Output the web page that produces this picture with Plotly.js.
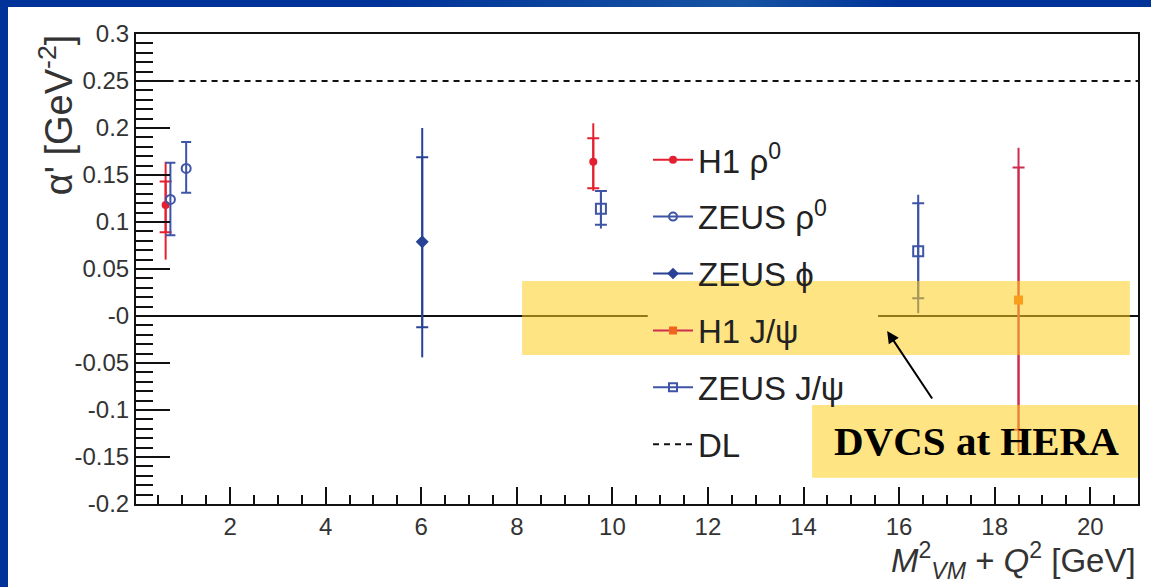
<!DOCTYPE html>
<html>
<head>
<meta charset="utf-8">
<script src="https://cdn.plot.ly/plotly-3.0.1.min.js"></script>
<style>
  html, body { margin: 0; padding: 0; background: #003399; width: 1151px; height: 587px; overflow: hidden; }
  #swoosh { position: absolute; left: 380px; top: 0; width: 520px; height: 7px;
    background: linear-gradient(90deg, rgba(40,110,170,0) 0%, rgba(40,110,170,0.55) 70%, rgba(40,110,170,0) 100%); }
  #chart { position: absolute; left: 8px; top: 7px; width: 1143px; height: 580px; background: #ffffff; }
</style>
</head>
<body>
<div id="swoosh"></div>
<div id="chart"></div>
<script>
// ---- data ----
const h1RhoX = [0.65, 9.6];
const h1RhoY = [0.118, 0.164];
const h1RhoTotUp = [0.046, 0.041];
const h1RhoTotDn = [0.058, 0.031];
const h1RhoStatUp = [0.025, 0.025];
const h1RhoStatDn = [0.029, 0.028];

const zeusRhoX = [0.75, 1.08];
const zeusRhoY = [0.124, 0.157];
const zeusRhoUp = [0.039, 0.028];
const zeusRhoDn = [0.038, 0.026];

const zeusPhiX = [6.02];
const zeusPhiY = [0.079];
const zeusPhiTotUp = [0.121];
const zeusPhiTotDn = [0.123];
const zeusPhiStatUp = [0.090];
const zeusPhiStatDn = [0.091];

const h1JpsiX = [18.5];
const h1JpsiY = [0.017];
const h1JpsiTotUp = [0.162];
const h1JpsiTotDn = [0.162];
const h1JpsiStatUp = [0.141];
const h1JpsiStatDn = [0.138];

const zeusJpsiX = [9.76, 16.4];
const zeusJpsiY = [0.114, 0.069];
const zeusJpsiTotUp = [0.019, 0.060];
const zeusJpsiTotDn = [0.021, 0.066];
const zeusJpsiStatUp = [0.019, 0.051];
const zeusJpsiStatDn = [0.017, 0.050];

const dlX = [0, 21];
const dlY = [0.25, 0.25];

const yTickVals = [0.3, 0.25, 0.2, 0.15, 0.1, 0.05, 0, -0.05, -0.1, -0.15, -0.2];
const yTickText = ["0.3", "0.25", "0.2", "0.15", "0.1", "0.05", "-0", "-0.05", "-0.1", "-0.15", "-0.2"];
const xTickVals = [2, 4, 6, 8, 10, 12, 14, 16, 18, 20];

const legendNames = ["H1 ρ<sup>0</sup>", "ZEUS ρ<sup>0</sup>", "ZEUS ϕ", "H1 J/ψ", "ZEUS J/ψ"];

// ---- styles ----
const cRed = "rgb(228,32,48)";
const cBlue = "rgb(62,84,166)";
const cBlueDark = "rgb(40,66,150)";
const cOrange = "rgb(240,100,30)";
const cCrimson = "rgb(205,45,80)";

function errTrace(x, y, up, dn, color, width, marker) {
  return {
    type: "scatter", mode: "markers", x: x, y: y, showlegend: false, hoverinfo: "skip",
    marker: marker,
    error_y: { type: "data", symmetric: false, array: up, arrayminus: dn, color: color, thickness: 2, width: width }
  };
}
const hidden = { size: 1, opacity: 0 };

const traces = [
  errTrace(h1RhoX, h1RhoY, h1RhoStatUp, h1RhoStatDn, cRed, 6, hidden),
  errTrace(h1RhoX, h1RhoY, h1RhoTotUp, h1RhoTotDn, cRed, 0, { symbol: "circle", size: 8, color: cRed }),
  errTrace(zeusRhoX, zeusRhoY, zeusRhoUp, zeusRhoDn, cBlue, 5, { symbol: "circle-open", size: 9, color: cBlue, line: { width: 2, color: cBlue } }),
  errTrace(zeusPhiX, zeusPhiY, zeusPhiStatUp, zeusPhiStatDn, cBlueDark, 6, hidden),
  errTrace(zeusPhiX, zeusPhiY, zeusPhiTotUp, zeusPhiTotDn, cBlueDark, 0, { symbol: "diamond", size: 10, color: cBlueDark }),
  errTrace(h1JpsiX, h1JpsiY, h1JpsiStatUp, h1JpsiStatDn, cCrimson, 6, hidden),
  errTrace(h1JpsiX, h1JpsiY, h1JpsiTotUp, h1JpsiTotDn, cCrimson, 0, { symbol: "square", size: 9, color: cOrange }),
  errTrace(zeusJpsiX, zeusJpsiY, zeusJpsiStatUp, zeusJpsiStatDn, cBlue, 6, hidden),
  errTrace(zeusJpsiX, zeusJpsiY, zeusJpsiTotUp, zeusJpsiTotDn, cBlue, 0, { symbol: "square-open", size: 10, color: cBlue, line: { width: 2, color: cBlue } }),
  { type: "scatter", mode: "lines", x: dlX, y: dlY, showlegend: false, hoverinfo: "skip",
    line: { color: "#111", width: 2, dash: "6px,5px" } }
];

// legend-only entries
const legendMarkers = [
  { symbol: "circle", size: 8, color: cRed, c: cRed },
  { symbol: "circle-open", size: 8, color: cBlue, line: { width: 2, color: cBlue }, c: cBlue },
  { symbol: "diamond", size: 9, color: cBlueDark, c: cBlueDark },
  { symbol: "square", size: 8, color: cOrange, c: cCrimson },
  { symbol: "square-open", size: 8, color: cBlue, line: { width: 2, color: cBlue }, c: cBlue }
];
legendNames.forEach(function (nm, i) {
  const m = legendMarkers[i];
  traces.push({
    type: "scatter", mode: "lines+markers", x: [null], y: [null], name: nm, legendgroup: "g" + i,
    line: { color: m.c, width: 2 },
    marker: { symbol: m.symbol, size: m.size, color: m.color, line: m.line || { width: 0 } }
  });
});
traces.push({ type: "scatter", mode: "lines", x: [null], y: [null], name: "DL", legendgroup: "g5",
  line: { color: "#111", width: 2, dash: "6px,5px" } });

const fontMain = "'Liberation Sans', Arial, Helvetica, sans-serif";

const layout = {
  width: 1143, height: 580,
  margin: { l: 128, r: 13, t: 27, b: 83 },
  paper_bgcolor: "#ffffff", plot_bgcolor: "#ffffff",
  font: { family: fontMain, color: "#333" },
  showlegend: true,
  legend: {
    x: 0.511, y: 0.792, xanchor: "left", yanchor: "top",
    bgcolor: "rgba(0,0,0,0)", borderwidth: 0,
    font: { family: fontMain, size: 33, color: "#222" },
    traceorder: "grouped", tracegroupgap: 11, itemwidth: 40
  },
  xaxis: {
    range: [0.03, 21], showgrid: false, zeroline: false,
    showline: true, linecolor: "#111", linewidth: 2, mirror: true,
    ticks: "inside", ticklen: 17, tickwidth: 2, tickcolor: "#111",
    tickvals: xTickVals, ticktext: xTickVals.map(String),
    tickfont: { family: fontMain, size: 24, color: "#333" },
    minor: { ticks: "inside", ticklen: 9, tickwidth: 2, tickcolor: "#111", dtick: 0.5, tick0: 0 }
  },
  yaxis: {
    range: [-0.2, 0.3], showgrid: false,
    zeroline: true, zerolinecolor: "#111", zerolinewidth: 2,
    showline: true, linecolor: "#111", linewidth: 2, mirror: true,
    ticks: "inside", ticklen: 34, tickwidth: 2, tickcolor: "#111",
    tickvals: yTickVals, ticktext: yTickText,
    tickfont: { family: fontMain, size: 24, color: "#333" },
    minor: { ticks: "inside", ticklen: 17, tickwidth: 2, tickcolor: "#111", dtick: 0.01, tick0: 0 }
  },
  shapes: [
    { type: "rect", xref: "x", yref: "y", x0: 10.74, x1: 15.56, y0: -0.006, y1: 0.006,
      fillcolor: "#ffffff", line: { width: 0 }, layer: "above" },
    { type: "rect", xref: "x", yref: "y", x0: 8.11, x1: 20.83, y0: -0.0415, y1: 0.0372,
      fillcolor: "rgba(255,205,30,0.55)", line: { width: 0 }, layer: "above" },
    { type: "rect", xref: "x", yref: "y", x0: 14.18, x1: 21.04, y0: -0.172, y1: -0.0947,
      fillcolor: "rgba(255,205,30,0.55)", line: { width: 0 }, layer: "above" }
  ],
  annotations: [
    { xref: "paper", yref: "paper", x: -0.08, y: 1, xanchor: "center", yanchor: "top", yshift: 2,
      textangle: -90, showarrow: false,
      text: "α' [GeV<sup>-2</sup>]", font: { family: fontMain, size: 38, color: "#333" } },
    { xref: "paper", yref: "paper", x: 1, y: -0.12, xanchor: "right", yanchor: "middle", showarrow: false,
      text: "<i>M</i><sup>2</sup><sub><i>VM</i></sub> + <i>Q</i><sup>2</sup> [GeV]",
      font: { family: fontMain, size: 33, color: "#333" } },
    { xref: "x", yref: "y", x: 17.61, y: -0.133, xanchor: "center", yanchor: "middle", showarrow: false,
      text: "<b>DVCS at HERA</b>", font: { family: "'Liberation Serif', 'Times New Roman', serif", size: 41, color: "#000" } },
    { xref: "x", yref: "y", x: 15.75, y: -0.016, text: "", showarrow: true,
      ax: 46, ay: 69, arrowhead: 2, arrowsize: 1.2, arrowwidth: 2, arrowcolor: "#000" }
  ]
};

Plotly.newPlot("chart", traces, layout, { displayModeBar: false, staticPlot: true });
</script>
</body>
</html>
